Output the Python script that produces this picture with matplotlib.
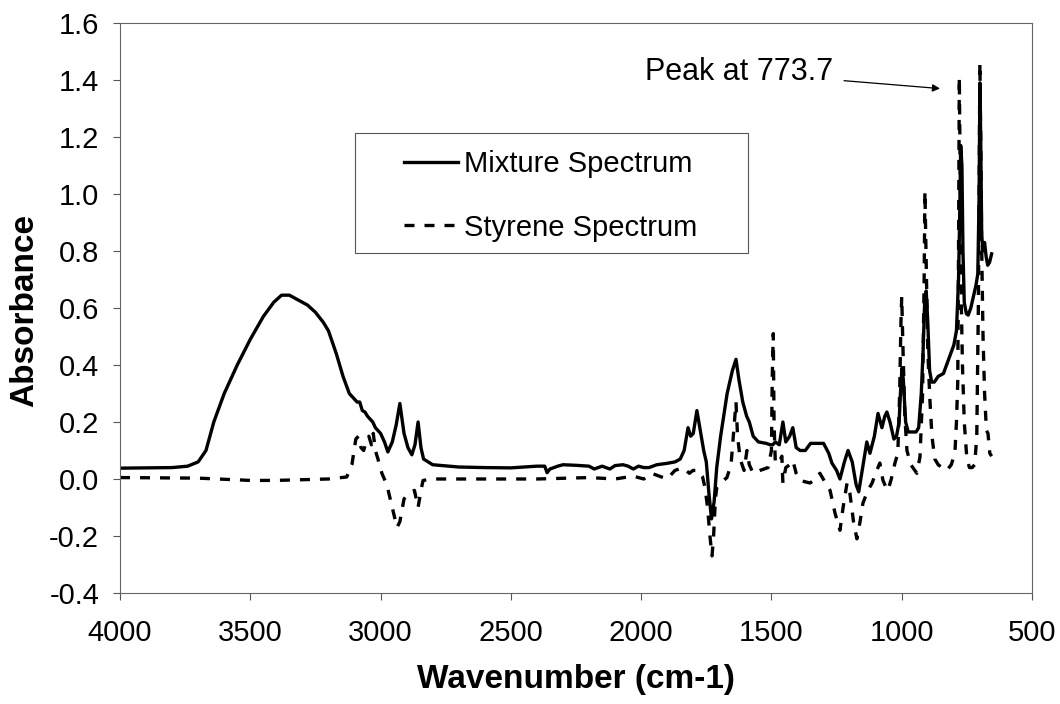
import matplotlib
matplotlib.use("Agg")
import matplotlib.pyplot as plt
from matplotlib.patches import Rectangle

plt.rcParams["font.family"] = ["Liberation Sans", "DejaVu Sans"]
plt.rcParams["axes.unicode_minus"] = False

# Mixture spectrum (wavenumber, absorbance)
mix_wn = [4000, 3800, 3740, 3700, 3670, 3640, 3600, 3550, 3500, 3450, 3410, 3380,
          3350, 3320, 3280, 3250, 3220, 3200, 3170, 3144, 3120, 3100, 3090, 3080,
          3070, 3060, 3050, 3040, 3030, 3020, 3000, 2985, 2972, 2955, 2940, 2926,
          2910, 2895, 2880, 2868, 2856, 2845, 2835, 2800, 2700, 2600, 2500, 2400,
          2370, 2361, 2350, 2320, 2300, 2250, 2200, 2180, 2150, 2120, 2100, 2070,
          2050, 2030, 2010, 1990, 1970, 1940, 1900, 1870, 1850, 1835, 1820, 1810,
          1800, 1786, 1775, 1760, 1750, 1740, 1730, 1720, 1710, 1695, 1670, 1650,
          1636, 1625, 1610, 1595, 1585, 1570, 1550, 1520, 1505, 1495, 1485, 1470,
          1456, 1445, 1430, 1418, 1405, 1390, 1370, 1350, 1320, 1300, 1280, 1268,
          1250, 1237, 1220, 1206, 1190, 1175, 1165, 1150, 1134, 1122, 1105, 1091,
          1076, 1065, 1057, 1045, 1030, 1020, 1010, 1005, 999, 994, 985, 975,
          960, 945, 935, 925, 918, 912, 906, 900, 893, 885, 875, 860,
          840, 820, 800, 790, 782, 777, 773.7, 769, 765, 760, 752, 745,
          735, 725, 715, 708, 703, 700, 697, 693, 688, 682, 676, 670,
          663, 655]
mix_abs = [0.038, 0.040, 0.045, 0.060, 0.100, 0.200, 0.300, 0.400, 0.490, 0.570, 0.620, 0.645,
           0.645, 0.630, 0.610, 0.585, 0.550, 0.520, 0.440, 0.360, 0.300, 0.280, 0.270, 0.270,
           0.240, 0.235, 0.220, 0.210, 0.200, 0.180, 0.160, 0.130, 0.095, 0.130, 0.190, 0.265,
           0.160, 0.110, 0.085, 0.120, 0.200, 0.110, 0.070, 0.050, 0.042, 0.040, 0.039, 0.045,
           0.045, 0.022, 0.035, 0.045, 0.050, 0.048, 0.045, 0.035, 0.045, 0.035, 0.047, 0.050,
           0.045, 0.035, 0.045, 0.040, 0.040, 0.050, 0.055, 0.060, 0.070, 0.100, 0.180, 0.150,
           0.160, 0.240, 0.180, 0.100, 0.060, -0.050, -0.140, -0.080, 0.040, 0.150, 0.300, 0.380,
           0.420, 0.350, 0.270, 0.220, 0.200, 0.150, 0.130, 0.125, 0.120, 0.120, 0.130, 0.120,
           0.200, 0.130, 0.150, 0.180, 0.110, 0.100, 0.100, 0.125, 0.125, 0.125, 0.090, 0.056,
           0.030, 0.000, 0.060, 0.100, 0.060, -0.020, -0.045, 0.040, 0.130, 0.090, 0.150, 0.230,
           0.180, 0.220, 0.235, 0.200, 0.140, 0.150, 0.200, 0.300, 0.390, 0.350, 0.200, 0.165,
           0.165, 0.165, 0.180, 0.300, 0.450, 0.620, 0.660, 0.550, 0.380, 0.340, 0.340, 0.360,
           0.370, 0.420, 0.470, 0.520, 0.700, 0.950, 1.170, 1.100, 0.800, 0.620, 0.580, 0.575,
           0.600, 0.640, 0.680, 0.720, 1.000, 1.390, 1.200, 0.850, 0.800, 0.830, 0.780, 0.750,
           0.760, 0.790]

# Styrene reference spectrum
sty_wn = [4000, 3700, 3500, 3400, 3200, 3130, 3110, 3095, 3085, 3075, 3065, 3055,
          3045, 3035, 3028, 3020, 3010, 2995, 2976, 2955, 2937, 2926, 2910, 2890,
          2870, 2856, 2845, 2837, 2800, 2600, 2400, 2200, 2100, 2031, 1990, 1960,
          1930, 1901, 1870, 1840, 1815, 1801, 1780, 1765, 1755, 1745, 1736, 1728,
          1722, 1715, 1710, 1690, 1671, 1655, 1642, 1636, 1630, 1620, 1605, 1594,
          1585, 1570, 1544, 1513, 1500, 1497, 1493, 1490, 1485, 1470, 1460, 1456,
          1445, 1430, 1418, 1405, 1390, 1370, 1352, 1330, 1314, 1295, 1275, 1256,
          1237, 1225, 1210, 1199, 1185, 1172, 1160, 1149, 1130, 1114, 1100, 1084,
          1072, 1060, 1053, 1040, 1026, 1015, 1008, 1003, 1000, 995, 988, 980,
          965, 950, 942, 930, 920, 914, 911, 907, 900, 892, 884, 873,
          860, 845, 827, 810, 796, 790, 785, 782, 779, 775, 771, 767,
          760, 750, 740, 730, 720, 712, 706, 702, 700, 697, 693, 688,
          682, 675, 669, 662, 655]
sty_abs = [0.005, 0.003, -0.005, -0.005, 0.000, 0.007, 0.050, 0.140, 0.150, 0.110, 0.100, 0.130,
           0.150, 0.120, 0.160, 0.100, 0.070, 0.020, -0.020, -0.100, -0.170, -0.150, -0.070, -0.050,
           -0.040, -0.100, -0.040, -0.005, 0.000, 0.000, 0.000, 0.005, 0.000, 0.010, 0.000, 0.020,
           0.010, 0.000, 0.030, 0.040, 0.020, 0.030, 0.030, 0.010, -0.030, -0.100, -0.200, -0.270,
           -0.200, -0.070, -0.030, -0.010, 0.005, 0.050, 0.200, 0.270, 0.150, 0.070, 0.030, 0.100,
           0.050, 0.020, 0.030, 0.040, 0.100, 0.350, 0.510, 0.200, 0.055, 0.060, 0.080, -0.014,
           0.040, 0.050, 0.065, 0.020, -0.005, -0.010, -0.014, 0.000, 0.020, -0.010, -0.040, -0.120,
           -0.180, -0.100, -0.015, -0.050, -0.150, -0.210, -0.150, -0.085, -0.040, -0.015, 0.020, 0.056,
           -0.005, -0.030, -0.040, 0.000, 0.056, 0.090, 0.300, 0.550, 0.640, 0.450, 0.220, 0.100,
           0.050, 0.030, 0.020, 0.077, 0.300, 0.700, 1.010, 0.800, 0.450, 0.280, 0.150, 0.070,
           0.050, 0.040, 0.030, 0.050, 0.090, 0.200, 0.340, 0.800, 1.410, 1.000, 0.600, 0.400,
           0.200, 0.070, 0.040, 0.040, 0.050, 0.150, 0.600, 1.200, 1.460, 1.200, 0.800, 0.500,
           0.300, 0.170, 0.160, 0.090, 0.080]

x_ticks = [4000, 3500, 3000, 2500, 2000, 1500, 1000, 500]
y_ticks = [-0.4, -0.2, 0.0, 0.2, 0.4, 0.6, 0.8, 1.0, 1.2, 1.4, 1.6]

fig = plt.figure(figsize=(10.6, 7.04), dpi=100)
ax = fig.add_axes([0.1132, 0.1577, 0.8604, 0.8096])

ax.plot(mix_wn, mix_abs, color="black", lw=2.4, solid_joinstyle="round",
        label="Mixture Spectrum")
ax.plot(sty_wn, sty_abs, color="black", lw=2.4, linestyle=(0, (3.0, 3.0)),
        label="Styrene Spectrum")

ax.set_xlim(4000, 500)
ax.set_ylim(-0.4, 1.6)
ax.set_xticks(x_ticks)
ax.set_yticks(y_ticks)
ax.set_yticklabels([f"{v:.1f}" for v in y_ticks])
ax.tick_params(axis="both", labelsize=21, color="#555555", length=5, width=0.8)
ax.tick_params(axis="x", pad=14)
ax.tick_params(axis="y", pad=10)
for s in ax.spines.values():
    s.set_color("#666666")
    s.set_linewidth(0.8)

ax.set_xlabel("Wavenumber (cm-1)", fontsize=24, fontweight="bold", va="center")
ax.set_ylabel("Absorbance", fontsize=24, fontweight="bold", va="center")
ax.xaxis.set_label_coords(0.5, -0.151)
ax.yaxis.set_label_coords(-0.104, 0.495)

# legend entries, with the box drawn separately to get the wide side padding
ax.legend(loc="upper left", bbox_to_anchor=(404 / 1060, 1 - 150 / 704),
          bbox_transform=fig.transFigure, frameon=False, borderpad=0,
          fontsize=21, handlelength=1.85, handletextpad=0.2,
          labelspacing=1.22, borderaxespad=0)
fig.add_artist(Rectangle((355 / 1060, 1 - 253 / 704), 393 / 1060, 120 / 704,
                         transform=fig.transFigure, fill=False,
                         edgecolor="#555555", lw=0.8))

ax.annotate("Peak at 773.7", xy=(853, 1.37), xytext=(1264, 1.428),
            fontsize=22, ha="right", va="center",
            arrowprops=dict(arrowstyle="-|>", color="black", lw=0.9,
                            mutation_scale=11, shrinkA=6, shrinkB=0))

fig.savefig("out.png", dpi=100)
